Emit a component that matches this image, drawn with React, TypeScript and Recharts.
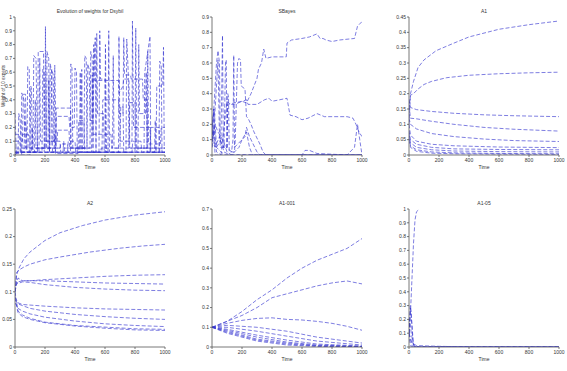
import React from 'react';
import { LineChart, Line, XAxis, YAxis } from 'recharts';

type Pair = [number, number];

// ---------- time axis ----------
const timeTicks = [0, 200, 400, 600, 800, 1000];

// ---------- Dsybil weights (10 experts) ----------
const dsybil1: Pair[] = [[0,0.3],[8,0.02],[40,0.02],[45,0.45],[60,0.4],[70,0.05],[120,0.05],[125,0.72],[140,0.7],[150,0.05],[200,0.05],[203,0.93],[208,0.1],[260,0.1],[265,0.65],[275,0.05],[460,0.05],[465,0.72],[475,0.7],[480,0.02],[690,0.02],[693,0.86],[700,0.1],[780,0.1],[783,0.97],[790,0.2],[900,0.2],[905,0.02],[1000,0.02]];
const dsybil2: Pair[] = [[0,0.1],[50,0.1],[55,0.44],[70,0.44],[75,0.02],[150,0.02],[155,0.75],[190,0.75],[195,0.02],[230,0.02],[235,0.66],[245,0.6],[250,0.02],[370,0.02],[372,0.66],[380,0.63],[385,0.05],[520,0.05],[525,0.6],[535,0.85],[540,0.02],[800,0.02],[805,0.92],[812,0.02],[960,0.02],[965,0.68],[975,0.65],[980,0.02],[1000,0.02]];
const dsybil3: Pair[] = [[0,0.05],[80,0.05],[85,0.64],[95,0.62],[100,0.05],[210,0.05],[213,0.75],[225,0.7],[230,0.02],[270,0.02],[275,0.34],[370,0.34],[375,0.05],[500,0.05],[505,0.75],[515,0.7],[520,0.02],[600,0.02],[603,0.8],[610,0.02],[860,0.02],[865,0.6],[900,0.86],[905,0.02],[1000,0.02]];
const dsybil4: Pair[] = [[0,0],[20,0.02],[25,0.3],[35,0.25],[40,0],[100,0],[105,0.5],[110,0.48],[115,0.02],[180,0.02],[185,0.62],[195,0.6],[200,0.05],[270,0.05],[275,0.28],[360,0.28],[365,0.2],[395,0.2],[400,0.63],[410,0.6],[415,0.02],[560,0.02],[565,0.9],[570,0.55],[600,0.55],[605,0.02],[740,0.02],[745,0.84],[755,0.6],[760,0.05],[1000,0.05]];
const dsybil5: Pair[] = [[0,0.02],[130,0.02],[135,0.4],[140,0.05],[240,0.05],[245,0.62],[255,0.58],[260,0.1],[280,0.1],[285,0.18],[360,0.18],[365,0.05],[480,0.05],[485,0.66],[495,0.62],[500,0.25],[520,0.25],[525,0.8],[530,0.54],[690,0.54],[695,0.45],[720,0.5],[725,0.55],[760,0.55],[765,0.05],[1000,0.05]];
const dsybil6: Pair[] = [[0,0.15],[30,0.15],[35,0.02],[160,0.02],[165,0.7],[170,0.1],[300,0.1],[305,0.02],[430,0.02],[435,0.6],[440,0.02],[580,0.02],[585,0.4],[690,0.4],[695,0.3],[720,0.3],[725,0.85],[730,0.58],[770,0.58],[775,0.55],[850,0.55],[855,0.4],[880,0.4],[885,0.02],[1000,0.02]];
const dsybil7: Pair[] = [[0,0.02],[60,0.02],[65,0.25],[75,0.2],[80,0.02],[350,0.02],[355,0.1],[400,0.1],[405,0.02],[440,0.02],[445,0.62],[450,0.02],[540,0.02],[545,0.88],[550,0.3],[590,0.3],[595,0.02],[820,0.02],[825,0.8],[830,0.3],[870,0.3],[875,0.6],[880,0.02],[940,0.02],[945,0.5],[985,0.5],[990,0.78],[995,0.05],[1000,0.05]];
const dsybil8: Pair[] = [[0,0.02],[110,0.02],[115,0.2],[120,0.02],[220,0.02],[225,0.55],[230,0.02],[320,0.02],[325,0.1],[330,0.02],[510,0.02],[515,0.58],[520,0.15],[640,0.15],[645,0.05],[700,0.05],[705,0.35],[720,0.35],[725,0.02],[900,0.02],[905,0.2],[960,0.2],[965,0.02],[1000,0.02]];
const dsybil9: Pair[] = [[0,0.01],[45,0.01],[50,0.15],[90,0.15],[95,0.02],[260,0.02],[265,0.15],[270,0.01],[420,0.01],[425,0.25],[460,0.25],[465,0.02],[620,0.02],[625,0.9],[630,0.02],[780,0.02],[785,0.1],[840,0.1],[845,0.02],[930,0.02],[935,0.25],[940,0.02],[1000,0.02]];
const dsybil10: Pair[] = [[0,0.02],[140,0.02],[145,0.05],[300,0.05],[305,0.08],[350,0.08],[355,0.02],[570,0.02],[575,0.05],[650,0.05],[655,0.72],[660,0.05],[760,0.05],[765,0.38],[800,0.38],[805,0.05],[880,0.05],[885,0.75],[890,0.08],[970,0.08],[975,0.2],[1000,0.2]];

// ---------- SBayes ----------
const sbayes1: Pair[] = [[0,0.05],[10,0.3],[20,0],[60,0],[65,0.05],[100,0.35],[120,0.33],[150,0.33],[200,0.35],[230,0.34],[260,0.4],[300,0.5],[310,0.56],[330,0.6],[345,0.69],[360,0.63],[400,0.64],[495,0.64],[500,0.73],[530,0.75],[600,0.76],[650,0.77],[700,0.79],[720,0.76],[740,0.76],[760,0.75],[800,0.74],[850,0.75],[950,0.76],[970,0.84],[1000,0.87]];
const sbayes2: Pair[] = [[0,0.1],[30,0.6],[40,0.68],[50,0.6],[55,0.05],[100,0.05],[105,0.33],[150,0.34],[200,0.35],[230,0.36],[240,0.33],[300,0.33],[350,0.36],[380,0.37],[400,0.35],[450,0.36],[500,0.37],[520,0.26],[560,0.25],[600,0.23],[640,0.24],[680,0.26],[700,0.27],[750,0.25],[900,0.25],[940,0.24],[960,0.2],[980,0.15],[1000,0.12]];
const sbayes3: Pair[] = [[0,0.2],[15,0.3],[30,0.05],[60,0.1],[70,0.78],[75,0.05],[100,0.05],[105,0.4],[110,0.38],[115,0.02],[150,0.02],[155,0.1],[170,0.6],[180,0.63],[190,0.62],[195,0.45],[220,0.43],[230,0.25],[240,0.24],[260,0.2],[280,0.15],[320,0.07],[340,0.02],[360,0],[1000,0]];
const sbayes4: Pair[] = [[0,0.15],[10,0.12],[40,0.62],[50,0.1],[80,0.05],[90,0.6],[95,0.62],[100,0.05],[130,0.02],[140,0.1],[145,0.65],[150,0.05],[200,0.1],[220,0.12],[230,0.18],[250,0.12],[270,0.08],[300,0.02],[320,0],[600,0],[620,0.03],[650,0.03],[700,0.01],[900,0],[950,0.05],[970,0.2],[985,0.1],[1000,0]];
const sbayes5: Pair[] = [[0,0.1],[20,0.2],[40,0.15],[60,0.12],[80,0.08],[100,0.02],[130,0],[180,0.05],[200,0.1],[230,0.15],[250,0.05],[270,0],[1000,0]];
const sbayes6: Pair[] = [[0,0.25],[10,0.1],[30,0.05],[60,0.02],[90,0],[1000,0]];
const sbayes7: Pair[] = [[0,0.1],[20,0.05],[50,0.12],[80,0.02],[120,0],[1000,0]];
const sbayes8: Pair[] = [[0,0.05],[15,0.18],[30,0.02],[60,0],[1000,0]];

// ---------- A1 ----------
const a1s1: Pair[] = [[0,0.1],[10,0.2],[30,0.24],[60,0.285],[100,0.31],[180,0.34],[300,0.365],[400,0.385],[600,0.41],[800,0.425],[1000,0.437]];
const a1s2: Pair[] = [[0,0.15],[10,0.195],[30,0.2],[60,0.215],[100,0.23],[150,0.24],[250,0.252],[400,0.26],[600,0.265],[800,0.268],[1000,0.27]];
const a1s3: Pair[] = [[0,0.18],[10,0.155],[50,0.148],[150,0.142],[300,0.136],[500,0.131],[700,0.128],[1000,0.125]];
const a1s4: Pair[] = [[0,0.16],[10,0.12],[50,0.118],[150,0.11],[300,0.1],[500,0.09],[700,0.084],[1000,0.078]];
const a1s5: Pair[] = [[0,0.12],[10,0.1],[50,0.085],[150,0.07],[300,0.06],[500,0.052],[700,0.047],[1000,0.044]];
const a1s6: Pair[] = [[0,0.1],[10,0.065],[50,0.045],[150,0.035],[300,0.03],[600,0.026],[1000,0.024]];
const a1s7: Pair[] = [[0,0.08],[10,0.05],[50,0.035],[150,0.025],[300,0.02],[600,0.018],[1000,0.017]];
const a1s8: Pair[] = [[0,0.07],[10,0.04],[50,0.025],[150,0.017],[300,0.013],[600,0.011],[1000,0.01]];
const a1s9: Pair[] = [[0,0.06],[10,0.03],[50,0.017],[150,0.01],[300,0.007],[600,0.005],[1000,0.004]];
const a1s10: Pair[] = [[0,0.05],[10,0.025],[50,0.012],[150,0.006],[300,0.004],[600,0.003],[1000,0.002]];

// ---------- A2 ----------
const a2s1: Pair[] = [[0,0.1],[10,0.13],[30,0.145],[60,0.16],[100,0.172],[200,0.193],[300,0.207],[450,0.22],[600,0.23],[800,0.239],[1000,0.245]];
const a2s2: Pair[] = [[0,0.09],[10,0.135],[30,0.14],[60,0.145],[100,0.15],[200,0.158],[300,0.163],[500,0.172],[700,0.179],[850,0.183],[1000,0.186]];
const a2s3: Pair[] = [[0,0.11],[20,0.118],[50,0.12],[100,0.12],[200,0.122],[400,0.125],[600,0.128],[800,0.13],[1000,0.131]];
const a2s4: Pair[] = [[0,0.1],[20,0.125],[50,0.12],[100,0.12],[200,0.12],[400,0.118],[600,0.116],[800,0.115],[1000,0.114]];
const a2s5: Pair[] = [[0,0.12],[20,0.115],[50,0.118],[100,0.117],[200,0.113],[400,0.108],[600,0.105],[800,0.103],[1000,0.102]];
const a2s6: Pair[] = [[0,0.09],[20,0.08],[50,0.077],[100,0.076],[200,0.074],[400,0.071],[600,0.069],[800,0.068],[1000,0.067]];
const a2s7: Pair[] = [[0,0.085],[20,0.078],[50,0.075],[100,0.07],[200,0.065],[400,0.059],[600,0.055],[800,0.052],[1000,0.05]];
const a2s8: Pair[] = [[0,0.08],[20,0.07],[50,0.065],[100,0.06],[200,0.054],[400,0.047],[600,0.042],[800,0.039],[1000,0.037]];
const a2s9: Pair[] = [[0,0.1],[20,0.065],[50,0.058],[100,0.052],[200,0.045],[400,0.039],[600,0.036],[800,0.033],[1000,0.032]];
const a2s10: Pair[] = [[0,0.09],[20,0.062],[50,0.055],[100,0.05],[200,0.044],[400,0.038],[600,0.034],[800,0.031],[1000,0.03]];

// ---------- A1-001 ----------
const b1s1: Pair[] = [[0,0.1],[100,0.13],[200,0.18],[300,0.24],[400,0.29],[500,0.35],[600,0.4],[700,0.44],[800,0.47],[900,0.5],[1000,0.55]];
const b1s2: Pair[] = [[0,0.1],[100,0.13],[200,0.16],[300,0.2],[400,0.25],[500,0.27],[600,0.29],[700,0.31],[800,0.325],[900,0.335],[1000,0.32]];
const b1s3: Pair[] = [[0,0.1],[100,0.12],[200,0.135],[300,0.145],[400,0.148],[500,0.14],[600,0.137],[700,0.13],[800,0.12],[900,0.105],[1000,0.085]];
const b1s4: Pair[] = [[0,0.1],[100,0.11],[300,0.1],[500,0.08],[700,0.05],[900,0.03],[1000,0.02]];
const b1s5: Pair[] = [[0,0.1],[100,0.1],[300,0.08],[500,0.055],[700,0.03],[1000,0.01]];
const b1s6: Pair[] = [[0,0.1],[100,0.09],[300,0.06],[500,0.035],[700,0.015],[1000,0.005]];
const b1s7: Pair[] = [[0,0.1],[100,0.085],[300,0.05],[500,0.025],[700,0.01],[1000,0.003]];
const b1s8: Pair[] = [[0,0.1],[100,0.08],[300,0.04],[500,0.02],[700,0.007],[1000,0.002]];
const b1s9: Pair[] = [[0,0.1],[100,0.075],[300,0.035],[500,0.015],[700,0.005],[1000,0.001]];
const b1s10: Pair[] = [[0,0.1],[100,0.07],[300,0.03],[500,0.01],[700,0.003],[1000,0]];

// ---------- A1-05 ----------
const c5s1: Pair[] = [[0,0.1],[10,0.25],[20,0.5],[30,0.75],[40,0.92],[50,0.98],[70,1]];
const c5s2: Pair[] = [[0,0.1],[8,0.3],[15,0.25],[25,0.05],[35,0],[1000,0]];
const c5s3: Pair[] = [[0,0.1],[10,0.28],[20,0.15],[30,0.02],[40,0],[1000,0]];
const c5s4: Pair[] = [[0,0.1],[5,0.2],[15,0.1],[30,0.01],[50,0],[1000,0]];
const c5s5: Pair[] = [[0,0.1],[10,0.05],[20,0.01],[30,0],[1000,0]];
const c5s6: Pair[] = [[0,0.1],[20,0.03],[50,0.01],[200,0.005],[330,0.002],[400,0],[1000,0]];
const c5s7: Pair[] = [[0,0.1],[5,0.04],[15,0],[1000,0]];

const toPoints = (arr: Pair[]) => arr.map(([t, v]) => ({ t, v }));

const FONT = '"Liberation Sans", Arial, sans-serif';
const LINE_COLOR = '#3434d0';
const AXIS_COLOR = '#555';
const TEXT_COLOR = '#333';

interface PanelProps {
  left: number;
  top: number;
  yMax: number;
  yTicks: number[];
  series: Pair[][];
  title: string;
}

const PLOT_W = 150;
const PLOT_H = 138;
const PAD_L = 40;
const PAD_T = 20;
const PAD_B = 20;

function Panel({ left, top, yMax, yTicks, series, title }: PanelProps) {
  const tickStyle = { fontSize: 5, fill: TEXT_COLOR, fontFamily: FONT };
  return (
    <div style={{ position: 'absolute', left: left - PAD_L, top: top - PAD_T }}>
      <LineChart
        width={PLOT_W + PAD_L + 10}
        height={PLOT_H + PAD_T + PAD_B}
        margin={{ top: PAD_T, right: 10, bottom: 0, left: 0 }}
      >
        <XAxis
          type="number"
          dataKey="t"
          domain={[0, 1000]}
          ticks={timeTicks}
          height={PAD_B}
          tick={tickStyle}
          tickSize={2}
          tickMargin={1}
          axisLine={{ stroke: AXIS_COLOR, strokeWidth: 0.8 }}
          tickLine={{ stroke: AXIS_COLOR, strokeWidth: 0.8 }}
          interval={0}
          allowDataOverflow
        />
        <YAxis
          type="number"
          domain={[0, yMax]}
          ticks={yTicks}
          width={PAD_L}
          tick={tickStyle}
          tickSize={2}
          tickMargin={1}
          axisLine={{ stroke: AXIS_COLOR, strokeWidth: 0.8 }}
          tickLine={{ stroke: AXIS_COLOR, strokeWidth: 0.8 }}
          interval={0}
          allowDataOverflow
        />
        {series.map((s, i) => (
          <Line
            key={i}
            data={toPoints(s)}
            dataKey="v"
            type="linear"
            stroke={LINE_COLOR}
            strokeOpacity={0.8}
            strokeWidth={0.8}
            strokeDasharray="4 2"
            dot={false}
            activeDot={false}
            isAnimationActive={false}
          />
        ))}
      </LineChart>
      <svg
        width={PLOT_W + PAD_L + 10}
        height={PLOT_H + PAD_T + PAD_B}
        style={{ position: 'absolute', left: 0, top: 0, pointerEvents: 'none' }}
      >
        <text
          x={PAD_L + PLOT_W / 2}
          y={PAD_T - 4}
          textAnchor="middle"
          fontSize={5}
          fontFamily={FONT}
          fill={TEXT_COLOR}
        >
          {title}
        </text>
        <text
          x={PAD_L + PLOT_W / 2}
          y={PAD_T + PLOT_H + 14}
          textAnchor="middle"
          fontSize={5}
          fontFamily={FONT}
          fill={TEXT_COLOR}
        >
          Time
        </text>
      </svg>
    </div>
  );
}

const range = (step: number, max: number) => {
  const out: number[] = [];
  for (let i = 0; i * step <= max + 1e-9; i++) out.push(Math.round(i * step * 1000) / 1000);
  return out;
};

export default function App() {
  return (
    <div
      style={{
        position: 'absolute',
        left: 0,
        top: 0,
        width: 567,
        height: 371,
        background: '#fff',
        overflow: 'hidden',
      }}
    >
      <Panel
        left={15}
        top={17}
        yMax={1}
        yTicks={range(0.1, 1)}
        title="Evolution of weights for Dsybil"
        series={[dsybil1, dsybil2, dsybil3, dsybil4, dsybil5, dsybil6, dsybil7, dsybil8, dsybil9, dsybil10]}
      />
      <Panel
        left={212}
        top={17}
        yMax={0.9}
        yTicks={range(0.1, 0.9)}
        title="SBayes"
        series={[sbayes1, sbayes2, sbayes3, sbayes4, sbayes5, sbayes6, sbayes7, sbayes8]}
      />
      <Panel
        left={409}
        top={17}
        yMax={0.45}
        yTicks={range(0.05, 0.45)}
        title="A1"
        series={[a1s1, a1s2, a1s3, a1s4, a1s5, a1s6, a1s7, a1s8, a1s9, a1s10]}
      />
      <Panel
        left={15}
        top={209}
        yMax={0.25}
        yTicks={range(0.05, 0.25)}
        title="A2"
        series={[a2s1, a2s2, a2s3, a2s4, a2s5, a2s6, a2s7, a2s8, a2s9, a2s10]}
      />
      <Panel
        left={212}
        top={209}
        yMax={0.7}
        yTicks={range(0.1, 0.7)}
        title="A1-001"
        series={[b1s1, b1s2, b1s3, b1s4, b1s5, b1s6, b1s7, b1s8, b1s9, b1s10]}
      />
      <Panel
        left={409}
        top={209}
        yMax={1}
        yTicks={range(0.1, 1)}
        title="A1-05"
        series={[c5s1, c5s2, c5s3, c5s4, c5s5, c5s6, c5s7]}
      />
      <svg
        width={10}
        height={180}
        style={{ position: 'absolute', left: 0, top: 0, pointerEvents: 'none' }}
      >
        <text
          x={4.6}
          y={86}
          transform="rotate(-90 4.6 86)"
          textAnchor="middle"
          fontSize={4.6}
          fontFamily={FONT}
          fill={TEXT_COLOR}
        >
          Weight of 10 experts
        </text>
      </svg>
    </div>
  );
}
